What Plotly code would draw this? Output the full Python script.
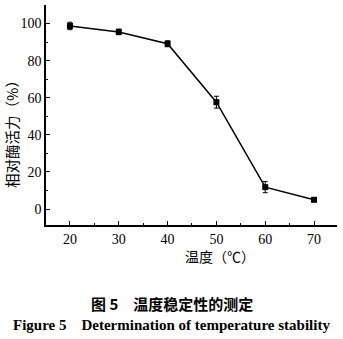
import plotly.graph_objects as go

temps = [20, 30, 40, 50, 60, 70]
activity = [98.7, 95.5, 89.1, 57.6, 11.8, 5.0]
errors = [2.0, 1.5, 1.6, 3.2, 3.0, 1.0]
x_ticks = [20, 30, 40, 50, 60, 70]
y_ticks = [0, 20, 40, 60, 80, 100]

fig = go.Figure()
fig.add_trace(go.Scatter(
    x=temps, y=activity, mode="lines+markers",
    line=dict(color="black", width=1.5),
    marker=dict(symbol="square", size=6, color="black"),
    error_y=dict(type="data", array=errors, visible=True, color="black", thickness=1, width=2.5),
    showlegend=False,
))

serif = "Liberation Serif, Times New Roman, serif"
cjk = "Noto Sans CJK SC"

fig.update_layout(
    width=343, height=339,
    margin=dict(l=46, r=6, t=5, b=114),
    paper_bgcolor="white", plot_bgcolor="white",
    xaxis=dict(range=[15.1, 74.7], tickvals=x_ticks, ticks="inside", ticklen=4, tickwidth=1,
               showline=True, linecolor="black", linewidth=1.5, showgrid=False, zeroline=False,
               tickfont=dict(family=serif, size=14, color="black"),
               minor=dict(dtick=5, ticks="inside", ticklen=2, tickcolor="black"), tickcolor="black"),
    yaxis=dict(range=[-8.6, 110], tickvals=y_ticks, ticks="inside", ticklen=4, tickwidth=1,
               showline=True, linecolor="black", linewidth=1.5, showgrid=False, zeroline=False,
               tickfont=dict(family=serif, size=14, color="black"),
               minor=dict(dtick=10, ticks="inside", ticklen=2, tickcolor="black"), tickcolor="black"),
)

fig.add_annotation(text="温度（℃）", xref="paper", yref="paper", x=0.598, y=-0.141,
                   xanchor="center", yanchor="middle",
                   showarrow=False, font=dict(family=cjk, size=14, color="black"))
fig.add_annotation(text="相对酶活力（%）", xref="paper", yref="paper", x=-0.117, y=0.432,
                   xanchor="center", yanchor="middle",
                   textangle=-90, showarrow=False, font=dict(family=cjk, size=14.5, color="black"))
fig.add_annotation(text="<b>图 5　温度稳定性的测定</b>", xref="paper", yref="paper", x=0.433, y=-0.355,
                   xanchor="center", yanchor="middle",
                   showarrow=False, font=dict(family=cjk, size=15, color="black"))
fig.add_annotation(text="<b>Figure 5    Determination of temperature stability</b>", xref="paper", yref="paper",
                   x=0.430, y=-0.4545, xanchor="center", yanchor="middle",
                   showarrow=False, font=dict(family=serif, size=15, color="black"))

fig.write_html("out.html")
